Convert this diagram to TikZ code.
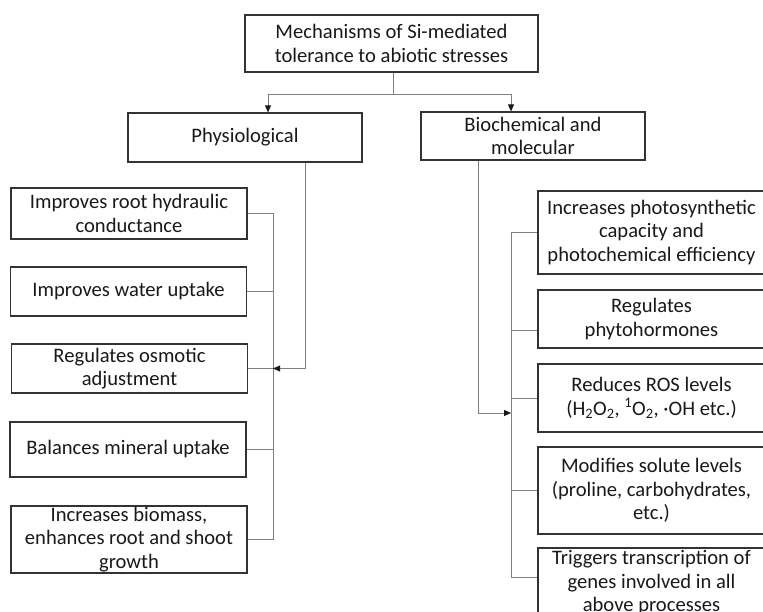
\documentclass[tikz,border=0pt]{standalone}
\usepackage{fontspec}
\setmainfont{Carlito}
\usetikzlibrary{positioning, arrows.meta}

\begin{document}
\begin{tikzpicture}[x=1pt, y=-1pt,
  box/.style={draw=black!80, line width=1.2pt, align=center, inner sep=0pt,
    text=black!90, font=\fontsize{20.6}{23.5}\selectfont},
  link/.style={draw=black!50, line width=0.8pt},
  tip/.style={-{Triangle[length=7pt,width=6pt,color=black!90]}}]
  \useasboundingbox (0,0) rectangle (763,612);
  \clip (0,0) rectangle (763,612);

  \node[box, minimum width=293pt, minimum height=57pt] (top)  at (391.5,43.5) {Mechanisms of Si-mediated\\tolerance to abiotic stresses};
  \node[box, minimum width=234pt, minimum height=49pt] (phys) at (245,137.5)  {Physiological};
  \node[box, minimum width=224pt, minimum height=48pt] (bio)  at (533,136)    {Biochemical and\\molecular};

  % physiological effects
  \node[box, minimum width=236pt, minimum height=51pt] (p1) at (129,213.5) {Improves root hydraulic\\conductance};
  \node[box, minimum width=236pt, minimum height=49pt] (p2) at (128.5,291.5) {Improves water uptake};
  \node[box, minimum width=236pt, minimum height=49pt] (p3) at (129.5,368.5) {Regulates osmotic\\adjustment};
  \node[box, minimum width=236pt, minimum height=55pt] (p4) at (128,449.5) {Balances mineral uptake};
  \node[box, minimum width=236pt, minimum height=67pt] (p5) at (129,539.5) {Increases biomass,\\enhances root and shoot\\growth};

  % biochemical and molecular effects
  \node[box, minimum width=227pt, minimum height=83pt] (b1) at (651.5,232.5) {Increases photosynthetic\\capacity and\\photochemical efficiency};
  \node[box, minimum width=227pt, minimum height=58pt] (b2) at (651.5,319) {Regulates\\phytohormones};
  \node[box, minimum width=227pt, minimum height=68pt] (b3) at (651.5,398) {Reduces ROS levels\\(H\textsubscript{2}O\textsubscript{2}, \textsuperscript{1}O\textsubscript{2}, ·OH etc.)};
  \node[box, minimum width=227pt, minimum height=87pt] (b4) at (651.5,490.5) {Modifies solute levels\\(proline, carbohydrates,\\etc.)};
  \node[box, minimum width=227pt, minimum height=70pt] (b5) at (651.5,583) {Triggers transcription of\\genes involved in all\\above processes};

  \coordinate (fork) at (393,94);
  \coordinate (lbus) at (273,0);
  \coordinate (rbus) at (511,0);
  \coordinate (rin)  at (511,413);

  \draw[link] (top.south -| fork) -- (fork);
  \draw[link, tip] (fork) -| ([xshift=23pt]phys.north);
  \draw[link, tip] (fork) -| ([xshift=-22pt]bio.north);

  \draw[link] (p1.east) -- (p1.east -| lbus);
  \draw[link] (p2.east) -- (p2.east -| lbus);
  \draw[link] (p3.east) -- (p3.east -| lbus);
  \draw[link] (p4.east) -- (p4.east -| lbus);
  \draw[link] (p5.east) -- (p5.east -| lbus);
  \draw[link] (p1.east -| lbus) -- (p5.east -| lbus);
  \draw[link, tip] ([xshift=60pt]phys.south) |- (p3.east -| lbus);

  \draw[link] (b1.west) -- (b1.west -| rbus);
  \draw[link] ([yshift=-11pt]b2.west) -- ([yshift=-11pt]b2.west -| rbus);
  \draw[link] (b3.west) -- (b3.west -| rbus);
  \draw[link] (b4.west) -- (b4.west -| rbus);
  \draw[link] ([yshift=6pt]b5.west) -- ([yshift=6pt]b5.west -| rbus);
  \draw[link] (b1.west -| rbus) -- ([yshift=6pt]b5.west -| rbus);
  \draw[link, tip] ([xshift=-55pt]bio.south) |- (rin);
\end{tikzpicture}
\end{document}
